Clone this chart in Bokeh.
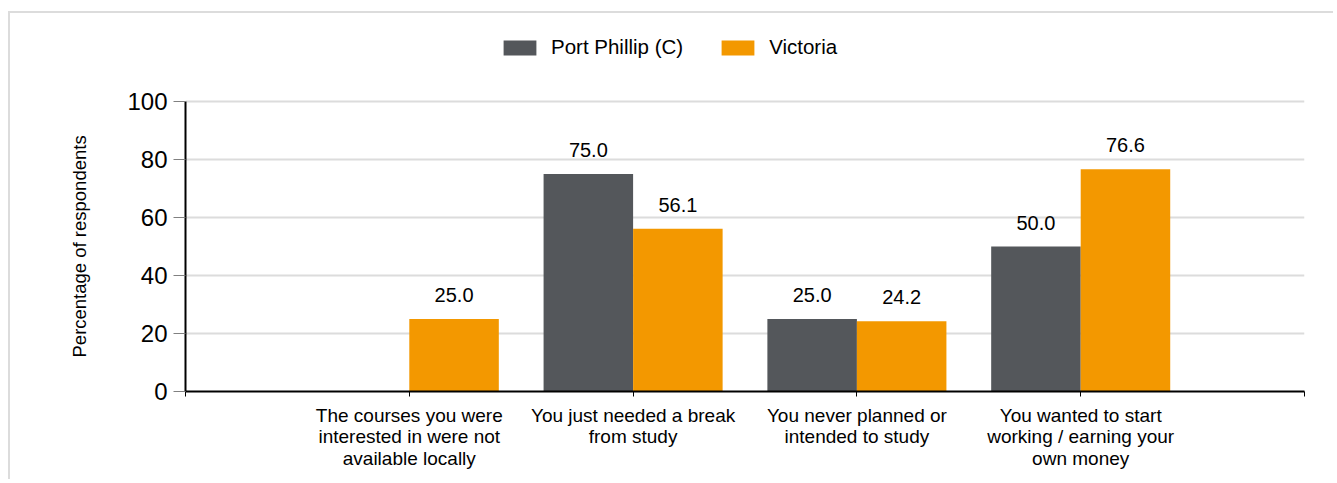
from bokeh.plotting import figure
from bokeh.models import ColumnDataSource, LabelSet, Legend, LegendItem, FixedTicker, Range1d, Title
from bokeh.embed import file_html
from bokeh.resources import INLINE
from bokeh.core.properties import value

categories = [
    "The courses you were\ninterested in were not\navailable locally",
    "You just needed a break\nfrom study",
    "You never planned or\nintended to study",
    "You wanted to start\nworking / earning your\nown money",
]
port_phillip = [None, 75.0, 25.0, 50.0]
victoria = [25.0, 56.1, 24.2, 76.6]
series_names = ["Port Phillip (C)", "Victoria"]
y_ticks = [0, 20, 40, 60, 80, 100]
y_label = "Percentage of respondents"

DARK = "#54575b"
ORANGE = "#f39800"
FONT = "Liberation Sans"

W, H = 1325, 468
ML, MR, MB = 175, 31, 90
FRAME_H = H - MB            # frame spans canvas top to the x axis
PX_PER_100 = 290.0          # pixel height of 0..100
Y_TOP = 100.0 * FRAME_H / PX_PER_100

p = figure(width=W, height=H, output_backend="svg", toolbar_location=None,
           x_range=Range1d(0, len(categories) + 1), y_range=Range1d(0, Y_TOP),
           min_border_left=ML, min_border_top=0, min_border_right=MR, min_border_bottom=MB)
p.styles = {"margin-top": "11px", "margin-left": "8px",
            "border-top": "2px solid #dcdcdc", "border-left": "2px solid #dcdcdc"}
p.outline_line_color = None
p.background_fill_color = "white"
p.border_fill_color = "white"

pos = list(range(1, len(categories) + 1))
pp_x = [i - 0.2 for i, v in zip(pos, port_phillip) if v is not None]
pp_y = [v for v in port_phillip if v is not None]
vi_x = [i + 0.2 for i in pos]
vi_y = victoria

src_pp = ColumnDataSource(dict(x=pp_x, top=pp_y, lab=["%.1f" % v for v in pp_y]))
src_vi = ColumnDataSource(dict(x=vi_x, top=vi_y, lab=["%.1f" % v for v in vi_y]))

r1 = p.vbar(x="x", top="top", width=0.4, bottom=0, source=src_pp, fill_color=DARK, line_color=None)
r2 = p.vbar(x="x", top="top", width=0.4, bottom=0, source=src_vi, fill_color=ORANGE, line_color=None)

for s in (src_pp, src_vi):
    ls = LabelSet(x="x", y="top", text="lab", source=s, y_offset=17, text_align="center",
                  text_baseline="alphabetic", text_font=value(FONT), text_font_size="20px",
                  text_color="black")
    p.add_layout(ls)

# axes
p.xaxis.ticker = FixedTicker(ticks=list(range(0, len(categories) + 2)))
over = {i: "" for i in range(0, len(categories) + 2)}
for i, c in zip(pos, categories):
    over[i] = c
p.xaxis.major_label_overrides = over
p.xaxis.major_label_text_font = FONT
p.xaxis.major_label_text_font_size = "19px"
p.xaxis.major_label_text_color = "black"
p.xaxis.major_label_text_line_height = 1.03
p.xaxis.axis_line_color = "black"
p.xaxis.axis_line_width = 2
p.xaxis.major_tick_line_color = "black"
p.xaxis.major_tick_out = 5
p.xaxis.major_tick_in = 0
p.xaxis.minor_tick_line_color = None
p.xaxis.major_label_standoff = 8

p.yaxis.ticker = FixedTicker(ticks=y_ticks)
p.yaxis.bounds = (0, 100)
p.yaxis.major_label_text_font = FONT
p.yaxis.major_label_text_font_size = "24px"
p.yaxis.major_label_text_color = "black"
p.yaxis.axis_line_color = "black"
p.yaxis.axis_line_width = 2
p.yaxis.major_tick_line_color = "#808080"
p.yaxis.major_tick_out = 12
p.yaxis.major_tick_in = 0
p.yaxis.minor_tick_line_color = None
p.yaxis.major_label_standoff = 6

# y axis title, placed along the 0..100 span (frame extends above for the legend)
ytitle = Title(text=y_label, align="left", offset=34, standoff=70,
               text_font=FONT, text_font_size="18.5px", text_font_style="normal",
               text_color="black")
p.add_layout(ytitle, "left")

p.xgrid.grid_line_color = None
p.ygrid.grid_line_color = "#dcdcdc"
p.ygrid.grid_line_width = 2

legend = Legend(items=[LegendItem(label=series_names[0], renderers=[r1]),
                       LegendItem(label=series_names[1], renderers=[r2])],
                orientation="horizontal", location=(314, 332),
                glyph_width=41, glyph_height=19, label_height=19, label_standoff=11,
                spacing=34, padding=0, margin=0, border_line_color=None,
                background_fill_alpha=0, label_text_font=FONT, label_text_font_size="20.5px",
                label_text_color="black")
p.add_layout(legend, "center")

open("out.html", "w").write(file_html(p, INLINE))
